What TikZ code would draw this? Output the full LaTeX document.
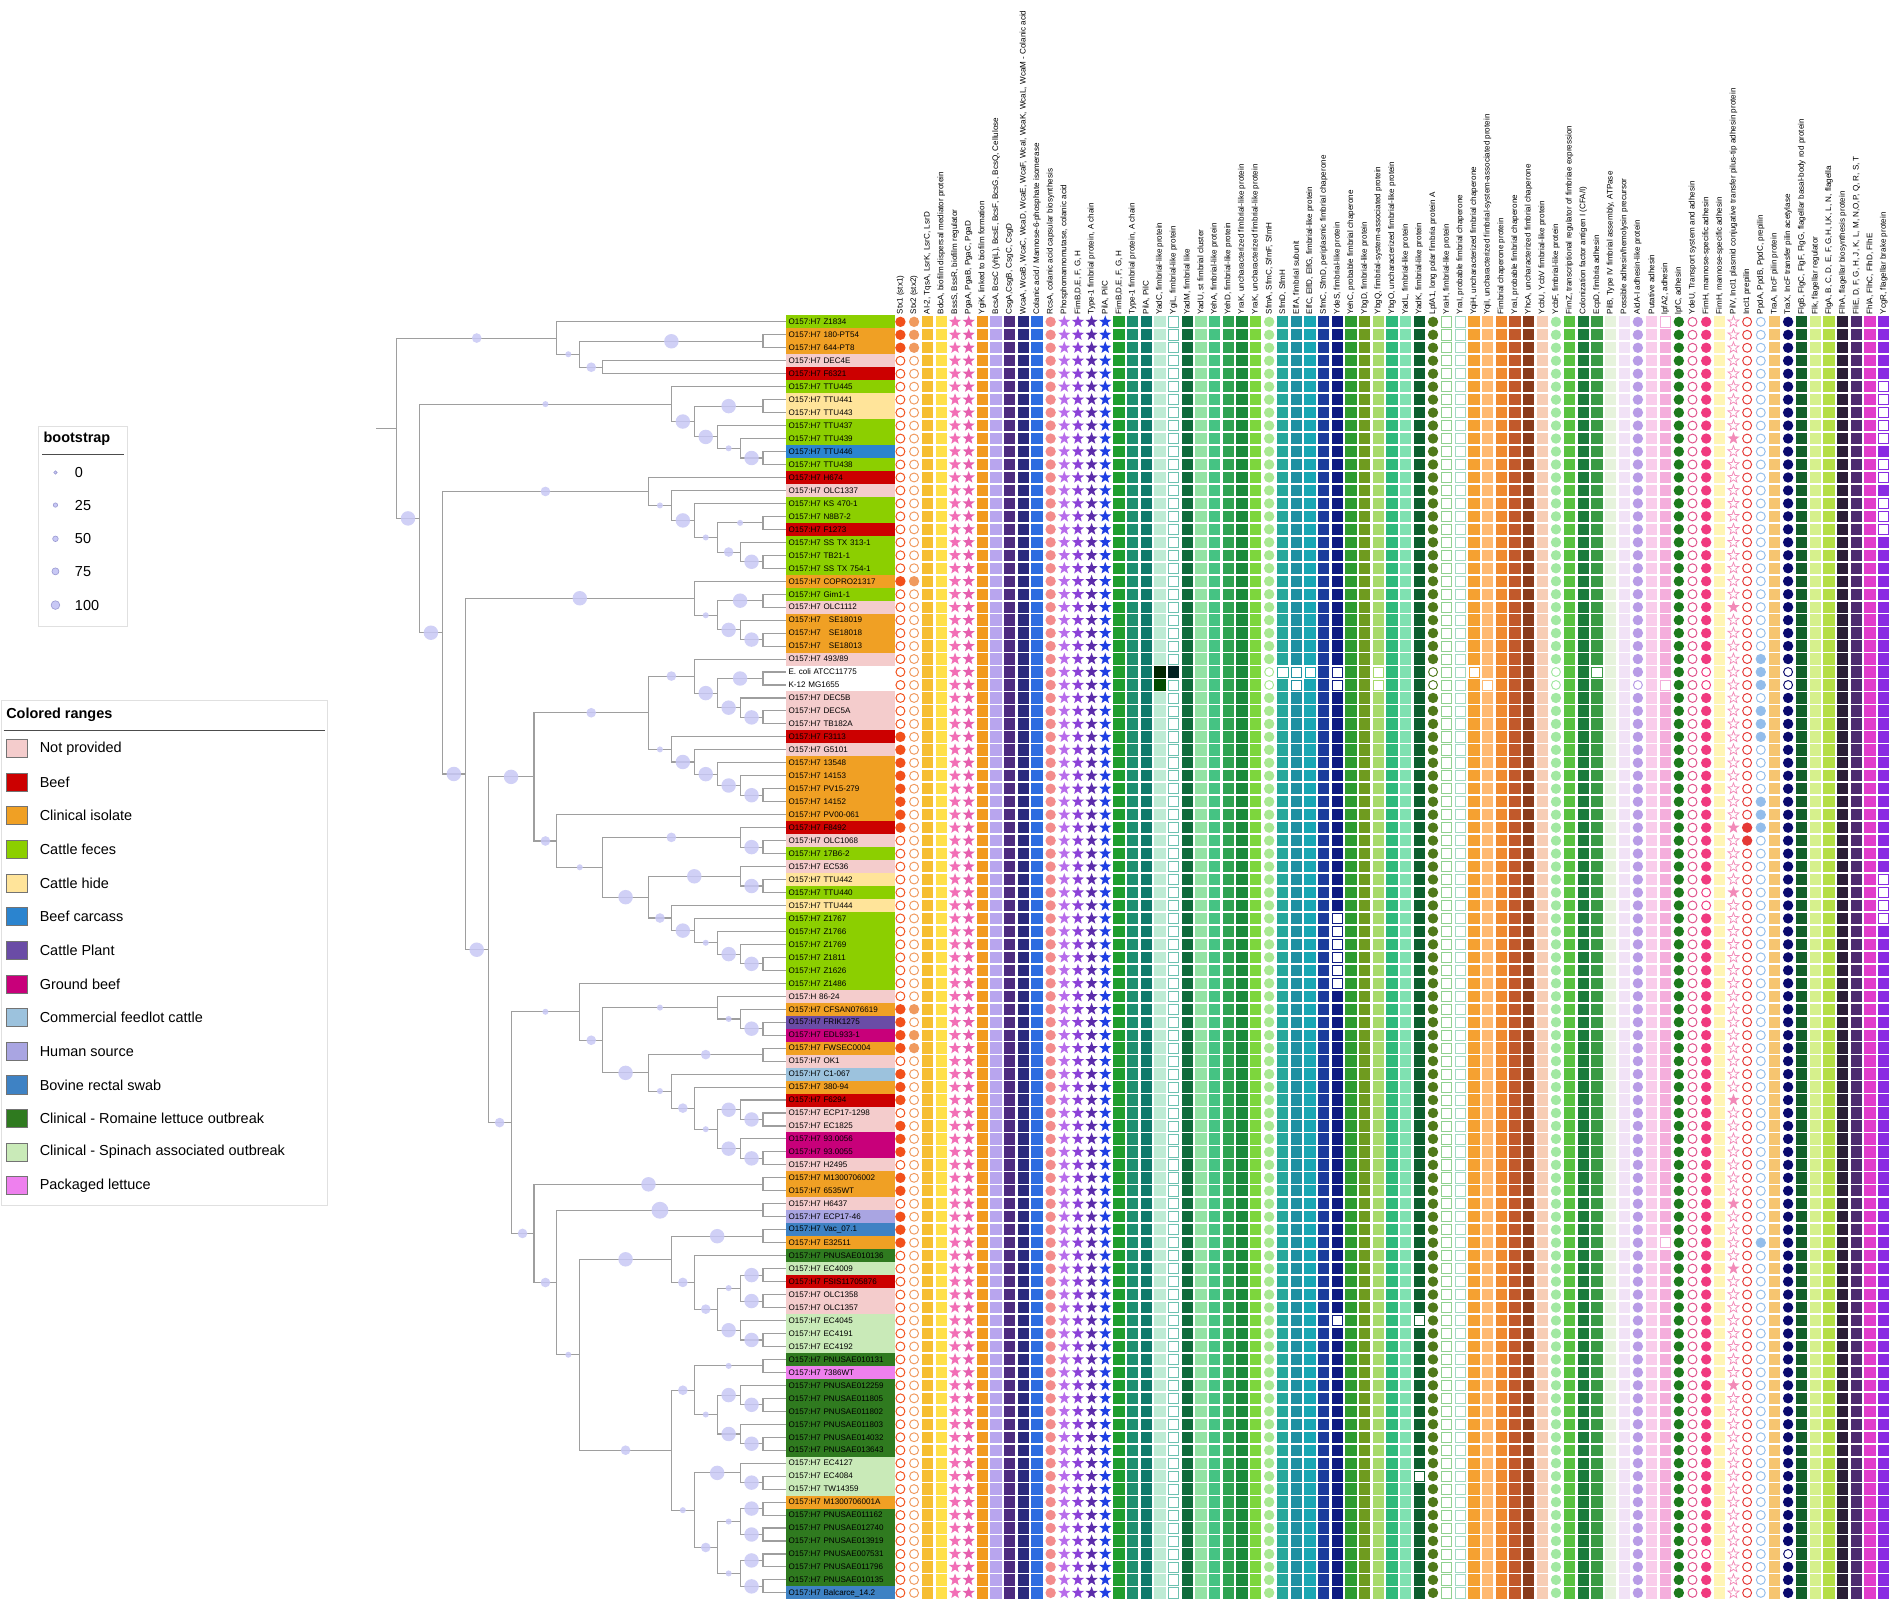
\documentclass[tikz,border=0pt]{standalone}
\usepackage{fontspec}
\setmainfont{Liberation Sans}
\usetikzlibrary{calc, positioning}

% source colours
\definecolor{cNP}{HTML}{F4CCCC}
\definecolor{cBeef}{HTML}{CC0000}
\definecolor{cClin}{HTML}{F0A024}
\definecolor{cFeces}{HTML}{8CCF00}
\definecolor{cHide}{HTML}{FFE49A}
\definecolor{cCarcass}{HTML}{2B84CF}
\definecolor{cPlant}{HTML}{6A4CA6}
\definecolor{cGround}{HTML}{C8007A}
\definecolor{cFeedlot}{HTML}{9CC2DD}
\definecolor{cHuman}{HTML}{A9A5E2}
\definecolor{cSwab}{HTML}{3E82C4}
\definecolor{cRomaine}{HTML}{2F7A1F}
\definecolor{cSpinach}{HTML}{C9EAB8}
\definecolor{cLettuce}{HTML}{EE80EE}
\definecolor{bootfill}{HTML}{C8C8F5}
% gene colours
\definecolor{g01}{HTML}{F2501A}\definecolor{g02}{HTML}{F09A5E}\definecolor{g03}{HTML}{F6BE32}
\definecolor{g04}{HTML}{FFE04A}\definecolor{g05}{HTML}{F26FB6}\definecolor{g06}{HTML}{E65FAE}
\definecolor{g07}{HTML}{F29A1F}\definecolor{g08}{HTML}{B8A5EE}\definecolor{g09}{HTML}{4D2C80}
\definecolor{g10}{HTML}{2A2A7E}\definecolor{g11}{HTML}{2E6CE0}\definecolor{g12}{HTML}{F38C8C}
\definecolor{g13}{HTML}{B86CEB}\definecolor{g14}{HTML}{8C42D8}\definecolor{g15}{HTML}{5B2CAA}
\definecolor{g16}{HTML}{1F3FE3}\definecolor{g17}{HTML}{1F9E2F}\definecolor{g18}{HTML}{1E8F70}
\definecolor{g19}{HTML}{0F7A6B}\definecolor{g20}{HTML}{BDEBD4}\definecolor{g21}{HTML}{6CC2B0}
\definecolor{g22}{HTML}{0F6B3B}\definecolor{g23}{HTML}{93E2A4}\definecolor{g24}{HTML}{45C383}
\definecolor{g25}{HTML}{2FA352}\definecolor{g26}{HTML}{1A8A3B}\definecolor{g27}{HTML}{7DD63D}
\definecolor{g28}{HTML}{A9E892}\definecolor{g29}{HTML}{27A79B}\definecolor{g30}{HTML}{1E90A2}
\definecolor{g31}{HTML}{19A7B3}\definecolor{g32}{HTML}{1B3C9C}\definecolor{g33}{HTML}{0E1B82}
\definecolor{g34}{HTML}{2F9B31}\definecolor{g35}{HTML}{6F9B1F}\definecolor{g36}{HTML}{A7DA6B}
\definecolor{g37}{HTML}{2FB97B}\definecolor{g38}{HTML}{7FE1B1}\definecolor{g39}{HTML}{0C5F2F}
\definecolor{g40}{HTML}{50791A}\definecolor{g41}{HTML}{8FD18F}\definecolor{g42}{HTML}{A2D9C1}
\definecolor{g43}{HTML}{F5A131}\definecolor{g44}{HTML}{FFB971}\definecolor{g45}{HTML}{F08B31}
\definecolor{g46}{HTML}{C1592B}\definecolor{g47}{HTML}{8A3B1B}\definecolor{g48}{HTML}{F7CDB5}
\definecolor{g49}{HTML}{A2E8A2}\definecolor{g50}{HTML}{58C141}\definecolor{g51}{HTML}{1B7B3B}
\definecolor{g52}{HTML}{3A9A44}\definecolor{g53}{HTML}{E6F3DC}\definecolor{g54}{HTML}{F1E2F6}
\definecolor{g55}{HTML}{B89CE6}\definecolor{g56}{HTML}{F9CDEB}\definecolor{g57}{HTML}{F4AEDC}
\definecolor{g58}{HTML}{1D7A1D}\definecolor{g59}{HTML}{E0508A}\definecolor{g60}{HTML}{F03A7F}
\definecolor{g61}{HTML}{FFF5B5}\definecolor{g62}{HTML}{F28AB8}\definecolor{g63}{HTML}{E53935}
\definecolor{g64}{HTML}{93BDEB}\definecolor{g65}{HTML}{F6C570}\definecolor{g66}{HTML}{0A0A6E}
\definecolor{g67}{HTML}{14602A}\definecolor{g68}{HTML}{D6F08C}\definecolor{g69}{HTML}{B5DE46}
\definecolor{g70}{HTML}{2B1E36}\definecolor{g71}{HTML}{4D2A70}\definecolor{g72}{HTML}{E03CCB}
\definecolor{g73}{HTML}{8A2BE2}

% cell shapes: x, y, colour
\newcommand\fullc[3]{\fill[#3] (#1,#2) circle (4.3);}
\newcommand\openc[3]{\filldraw[fill=white, draw=#3, line width=0.8pt] (#1,#2) circle (3.7);}
\newcommand\fulls[3]{\fill[#3] ({#1-4.7},{#2-4.7}) rectangle ({#1+4.7},{#2+4.7});}
\newcommand\opens[3]{\filldraw[fill=white, draw=#3, line width=0.6pt] ({#1-4.2},{#2-4.2}) rectangle ({#1+4.2},{#2+4.2});}
\newcommand\fullt[3]{\fill[#3] (#1,#2) +(90:5.3) -- +(126:2.2) -- +(162:5.3) -- +(198:2.2) -- +(234:5.3) -- +(270:2.2) -- +(306:5.3) -- +(342:2.2) -- +(18:5.3) -- +(54:2.2) -- cycle;}
\newcommand\opent[3]{\filldraw[fill=white, draw=#3, line width=0.6pt] (#1,#2) +(90:4.8) -- +(126:2) -- +(162:4.8) -- +(198:2) -- +(234:4.8) -- +(270:2) -- +(306:4.8) -- +(342:2) -- +(18:4.8) -- +(54:2) -- cycle;}

\makeatletter
% column, shape (c/s/t), colour, rows drawn open
\newcommand\gene[4]{%
  \pgfmathsetmacro\cx{747+11.33*(#1-1)}%
  \foreach \r in {1,...,99}{%
    \pgfmathsetmacro\cy{-(267+10.76*(\r-1))}%
    \edef\tmp{\noexpand\in@{,\r,}{,#4,}}\tmp
    \ifin@\csname open#2\endcsname{\cx}{\cy}{#3}%
    \else\csname full#2\endcsname{\cx}{\cy}{#3}\fi}}
% column, shape, colour, rows drawn filled
\newcommand\geneo[4]{%
  \pgfmathsetmacro\cx{747+11.33*(#1-1)}%
  \foreach \r in {1,...,99}{%
    \pgfmathsetmacro\cy{-(267+10.76*(\r-1))}%
    \edef\tmp{\noexpand\in@{,\r,}{,#4,}}\tmp
    \ifin@\csname full#2\endcsname{\cx}{\cy}{#3}%
    \else\csname open#2\endcsname{\cx}{\cy}{#3}\fi}}
\makeatother

% tree: [bootstrap radius] level, name, child, child
\newcommand\bootdot[2]{%
  \ifdim\csname bs@#2\endcsname pt>0pt
    \fill[boot] ($(#2)!0.5!(#1 |- #2)$) circle (\csname bs@#2\endcsname);
  \fi}
\newcommand\cladeat[5][0]{%
  \def\tmplev{#2}\def\autostr{auto}%
  \ifx\tmplev\autostr
    \pgfmathtruncatemacro\lev{max(\csname lv@#4\endcsname,\csname lv@#5\endcsname)+1}%
  \else\def\lev{#2}\fi
  \expandafter\xdef\csname lv@#3\endcsname{\lev}%
  \expandafter\xdef\csname bs@#3\endcsname{#1}%
  \path let \p1=(#4), \p2=(#5) in coordinate (#3) at ({652-19*\lev}, {0.5*(\y1+\y2)});
  \draw[branch] (#4) -| (#3) |- (#5);
  \bootdot{#3}{#4}\bootdot{#3}{#5}}
\newcommand\clade[4][0]{\cladeat[#1]{auto}{#2}{#3}{#4}}

\begin{document}
\begin{tikzpicture}[x=1pt, y=1pt,
  branch/.style={draw=black!38, line width=0.9pt},
  boot/.style={fill=bootfill, fill opacity=0.85},
  lab/.style={rectangle, anchor=west, minimum height=10.76pt, text width=86pt, inner xsep=2pt, inner ysep=0pt, align=left, font=\fontsize{6.7}{7}\selectfont},
  head/.style={rotate=90, anchor=west, inner sep=0pt, font=\fontsize{6.7}{7}\selectfont},
  legtxt/.style={anchor=west, inner sep=0pt, font=\fontsize{12}{13}\selectfont},
  legtitle/.style={anchor=west, inner sep=0pt, font=\bfseries\fontsize{12}{13}\selectfont},
  legsq/.style={draw=black!55, line width=0.6pt, minimum width=17pt, minimum height=15pt, inner sep=0pt},
  legdot/.style={fill=bootfill, draw=black!45!blue!40, line width=0.5pt},
  np/.style={fill=cNP}, beef/.style={fill=cBeef}, clinical/.style={fill=cClin},
  feces/.style={fill=cFeces}, hide/.style={fill=cHide}, carcass/.style={fill=cCarcass},
  plant/.style={fill=cPlant}, gbeef/.style={fill=cGround}, feedlot/.style={fill=cFeedlot},
  human/.style={fill=cHuman}, swab/.style={fill=cSwab}, romaine/.style={fill=cRomaine},
  spinach/.style={fill=cSpinach}, lettuce/.style={fill=cLettuce}, nosrc/.style={}]

\fill[white] (0,0) rectangle (1568,-1327.4);
\useasboundingbox (0,0) rectangle (1568,-1327.4);

% strain labels (tree tips)
\foreach \i/\src/\txt in {
  1/feces/O157:H7 Z1834, 2/clinical/O157:H7 180-PT54, 3/clinical/O157:H7 644-PT8,
  4/np/O157:H7 DEC4E, 5/beef/O157:H7 F6321, 6/feces/O157:H7 TTU445,
  7/hide/O157:H7 TTU441, 8/hide/O157:H7 TTU443, 9/feces/O157:H7 TTU437,
  10/feces/O157:H7 TTU439, 11/carcass/O157:H7 TTU446, 12/feces/O157:H7 TTU438,
  13/beef/O157:H7 H674, 14/np/O157:H7 OLC1337, 15/feces/O157:H7 KS 470-1,
  16/feces/O157:H7 N8B7-2, 17/beef/O157:H7 F1273, 18/feces/O157:H7 SS TX 313-1,
  19/feces/O157:H7 TB21-1, 20/feces/O157:H7 SS TX 754-1, 21/clinical/O157:H7 COPRO21317,
  22/feces/O157:H7 Gim1-1, 23/np/O157:H7 OLC1112, 24/clinical/O157:H7 \ \ SE18019,
  25/clinical/O157:H7 \ \ SE18018, 26/clinical/O157:H7 \ \ SE18013, 27/np/{O157:H7 493/89},
  28/nosrc/E. coli ATCC11775, 29/nosrc/K-12 MG1655, 30/np/O157:H7 DEC5B,
  31/np/O157:H7 DEC5A, 32/np/O157:H7 TB182A, 33/beef/O157:H7 F3113,
  34/np/O157:H7 G5101, 35/clinical/O157:H7 13548, 36/clinical/O157:H7 14153,
  37/clinical/O157:H7 PV15-279, 38/clinical/O157:H7 14152, 39/clinical/O157:H7 PV00-061,
  40/beef/O157:H7 F8492, 41/np/O157:H7 OLC1068, 42/feces/O157:H7 17B6-2,
  43/np/O157:H7 EC536, 44/hide/O157:H7 TTU442, 45/feces/O157:H7 TTU440,
  46/hide/O157:H7 TTU444, 47/feces/O157:H7 Z1767, 48/feces/O157:H7 Z1766,
  49/feces/O157:H7 Z1769, 50/feces/O157:H7 Z1811, 51/feces/O157:H7 Z1626,
  52/feces/O157:H7 Z1486, 53/np/O157:H 86-24, 54/clinical/O157:H7 CFSAN076619,
  55/plant/O157:H7 FRIK1275, 56/gbeef/O157:H7 EDL933-1, 57/clinical/O157:H7 FWSEC0004,
  58/np/O157:H7 OK1, 59/feedlot/O157:H7 C1-067, 60/clinical/O157:H7 380-94,
  61/beef/O157:H7 F6294, 62/np/O157:H7 ECP17-1298, 63/np/O157:H7 EC1825,
  64/gbeef/O157:H7 93.0056, 65/gbeef/O157:H7 93.0055, 66/np/O157:H7 H2495,
  67/clinical/O157:H7 M1300706002, 68/clinical/O157:H7 6535WT, 69/np/O157:H7 H6437,
  70/human/O157:H7 ECP17-46, 71/swab/O157:H7 Vac\_07.1, 72/clinical/O157:H7 E32511,
  73/romaine/O157:H7 PNUSAE010136, 74/spinach/O157:H7 EC4009, 75/beef/O157:H7 FSIS11705876,
  76/np/O157:H7 OLC1358, 77/np/O157:H7 OLC1357, 78/spinach/O157:H7 EC4045,
  79/spinach/O157:H7 EC4191, 80/spinach/O157:H7 EC4192, 81/romaine/O157:H7 PNUSAE010131,
  82/lettuce/O157:H7 7386WT, 83/romaine/O157:H7 PNUSAE012259, 84/romaine/O157:H7 PNUSAE011805,
  85/romaine/O157:H7 PNUSAE011802, 86/romaine/O157:H7 PNUSAE011803, 87/romaine/O157:H7 PNUSAE014032,
  88/romaine/O157:H7 PNUSAE013643, 89/spinach/O157:H7 EC4127, 90/spinach/O157:H7 EC4084,
  91/spinach/O157:H7 TW14359, 92/clinical/O157:H7 M1300706001A, 93/romaine/O157:H7 PNUSAE011162,
  94/romaine/O157:H7 PNUSAE012740, 95/romaine/O157:H7 PNUSAE013919, 96/romaine/O157:H7 PNUSAE007531,
  97/romaine/O157:H7 PNUSAE011796, 98/romaine/O157:H7 PNUSAE010135, 99/swab/O157:H7 Balcarce\_14.2}{
  \node[lab, \src] (t\i) at (652, {-(267+10.76*(\i-1))}) {\txt};
  \expandafter\xdef\csname lv@t\i\endcsname{0}
  \expandafter\xdef\csname bs@t\i\endcsname{0}
}

% rows 1-5
\clade[6]{k2}{t2}{t3}
\cladeat[4]{8}{a3}{t4}{t5}
\cladeat[2.5]{9}{a2}{k2}{a3}
\cladeat[4]{10}{a1}{t1}{a2}
% rows 6-12
\clade[6]{k11}{t11}{t12}
\clade[2.5]{d10}{t10}{k11}
\clade[6]{d9}{t9}{d10}
\clade[6]{k7}{t7}{t8}
\clade[6]{d7}{k7}{d9}
\clade[2.5]{g2}{t6}{d7}
% rows 13-20
\clade[6]{k19}{t19}{t20}
\clade[4]{d18}{t18}{k19}
\clade[2.5]{k16}{t16}{t17}
\clade[2.5]{d16}{k16}{d18}
\clade[6]{d15}{t15}{d16}
\clade[2.5]{d14}{t14}{d15}
\clade[4]{g3}{t13}{d14}
% rows 21-26
\clade[6]{k25}{t25}{t26}
\clade[6]{d24}{t24}{k25}
\clade[6]{k22}{t22}{t23}
\clade[2.5]{d22}{k22}{d24}
\clade[6]{g4}{t21}{d22}
% rows 27-38
\clade[6]{k31}{t31}{t32}
\clade[6]{d30}{t30}{k31}
\clade[6]{k28}{t28}{t29}
\clade[6]{d28}{k28}{d30}
\clade[4]{g5a}{t27}{d28}
\clade[6]{k37}{t37}{t38}
\clade[6]{d36}{t36}{k37}
\clade[6]{d35}{t35}{d36}
\clade[6]{d34}{t34}{d35}
\clade[2.5]{g5b}{t33}{d34}
\clade[4]{g5}{g5a}{g5b}
% rows 39-51
\clade[6]{k41}{t41}{t42}
\clade[4]{g6}{t40}{k41}
\clade[6]{k44}{t44}{t45}
\clade[6]{g7a}{t43}{k44}
\clade[6]{k50}{t50}{t51}
\clade[6]{d49}{t49}{k50}
\clade[2.5]{d48}{t48}{d49}
\clade[6]{d47}{t47}{d48}
\clade[4]{g7b}{t46}{d47}
\clade[6]{g7}{g7a}{g7b}
% rows 52-66
\clade[6]{k55}{t55}{t56}
\clade[2.5]{d54}{t54}{k55}
\clade[2.5]{g8}{t53}{d54}
\clade[6]{k62}{t62}{t63}
\clade[6]{d61}{t61}{k62}
\clade[6]{k65}{t65}{t66}
\clade[6]{d64}{t64}{k65}
\clade[2.5]{d61b}{d61}{d64}
\clade[4]{d60}{t60}{d61b}
\clade[2.5]{d59}{t59}{d60}
\clade[4]{k57}{t57}{t58}
\clade[6]{g9}{k57}{d59}
% rows 67-80
\clade[6]{k67}{t67}{t68}
\clade[7]{k69}{t69}{t70}
\clade[6]{k71}{t71}{t72}
\clade[6]{k74}{t74}{t75}
\clade[6]{k76}{t76}{t77}
\clade[6]{k79}{t79}{t80}
\clade[6]{d78}{t78}{k79}
\clade[2.5]{d74}{k74}{k76}
\clade[4]{d74b}{d74}{d78}
\clade[4]{d73}{t73}{d74b}
\clade[6]{g10}{k71}{d73}
% rows 81-99
\clade[2.5]{k81}{t81}{t82}
\clade[6]{k84}{t84}{t85}
\clade[6]{d83}{t83}{k84}
\clade[6]{k87}{t87}{t88}
\clade[6]{d86}{t86}{k87}
\clade[2.5]{d83b}{d83}{d86}
\clade[4]{g11a}{k81}{d83b}
\clade[6]{k90}{t90}{t91}
\clade[6]{d89}{t89}{k90}
\clade[6]{k92}{t92}{t93}
\clade[6]{k94}{t94}{t95}
\clade[6]{k96}{t96}{t97}
\clade[6]{k98}{t98}{t99}
\clade[2.5]{d92}{k92}{k94}
\clade[2.5]{d96}{k96}{k98}
\clade[4]{d92b}{d92}{d96}
\clade[2.5]{g11b}{d89}{d92b}
\clade[4]{g11}{g11a}{g11b}
% backbone
\cladeat[2.5]{9}{q3}{g10}{g11}
\cladeat[4]{10}{q2b}{k69}{q3}
\cladeat[4]{11}{q2}{k67}{q2b}
\cladeat[4]{8}{q1b}{g8}{g9}
\cladeat[2.5]{9}{q1}{t52}{q1b}
\cladeat[4]{12}{qq}{q1}{q2}
\cladeat[2.5]{8}{p1b}{g6}{g7}
\cladeat[4]{10}{p1}{t39}{p1b}
\cladeat[6]{11}{pp}{g5}{p1}
\cladeat[6]{13}{b13}{pp}{qq}
\cladeat[6]{14}{b14}{g4}{b13}
\cladeat[6]{15}{b15}{g3}{b14}
\cladeat[6]{16}{b16}{g2}{b15}
\cladeat[6]{17}{root}{a1}{b16}
\path (root) ++(-17,0) coordinate (rootstem);
\draw[branch] (rootstem) -- (root);

% column headers
\foreach \c/\txt in {
  1/{Stx1 (stx1)}, 2/{Stx2 (stx2)}, 3/{AI-2, TqsA, LsrK, LsrC, LsrD},
  4/{BdcA, biofilm dispersal mediator protein}, 5/{BssS, BssR, biofilm regulator},
  6/{PgaA, PgaB, PgaC, PgaD}, 7/{YgiK, linked to biofilm formation},
  8/{BcsA, BcsC (yhjL), BcsE, BcsF, BcsG, BcsQ, Cellulose}, 9/{CsgA,CsgB, CsgC, CsgD},
  10/{WcaA, WcaB, WcaC, WcaD, WcaE, WcaF, WcaI, WcaK, WcaL, WcaM - Colanic acid},
  11/{Colanic acid / Mannose-6-phosphate isomerase}, 12/{RcsA, colanic acid capsular biosynthesis},
  13/{Phosphomannomutase, colanic acid}, 14/{FimB,D,E, F, G, H}, 15/{Type-1 fimbrial protein, A chain},
  16/{PilA, PilC}, 17/{FimB,D,E, F, G, H}, 18/{Type-1 fimbrial protein, A chain}, 19/{PilA, PilC},
  20/{YadC, fimbrial-like protein}, 21/{YgiL, fimbrial-like protein}, 22/{YadM, fimbrial like},
  23/{YadU, st fimbrial cluster}, 24/{YehA, fimbrial-like protein}, 25/{YehD, fimbrial-like protein},
  26/{YraK, uncharacterized fimbrial-like protein}, 27/{YraK, uncharacterized fimbrial-like protein},
  28/{SfmA, SfmC, SfmF, SfmH}, 29/{SfmD, SfmH}, 30/{ElfA, fimbrial subunit},
  31/{ElfC, ElfD, ElfG, fimbrial-like protein}, 32/{SfmC, SfmD, periplasmic fimbrial chaperone},
  33/{YdeS, fimbrial-like protein}, 34/{YehC, probable fimbrial chaperone},
  35/{YbgD, fimbrial-like protein}, 36/{YbgQ, fimbrial-system-associated protein},
  37/{YbgO, uncharacterized fimbrial-like protein}, 38/{YadL, fimbrial-like protein},
  39/{YadK, fimbrial-like protein}, 40/{LpfA1, long polar fimbria protein A},
  41/{YraH, fimbrial-like protein}, 42/{YraI, probable fimbrial chaperone},
  43/{YqiH, uncharacterized fimbrial chaperone}, 44/{YqiI, uncharacterized fimbrial-system-associated protein},
  45/{Fimbrial chaperone protein}, 46/{YraI, probable fimbrial chaperone},
  47/{YhcA, uncharacterized fimbrial chaperone}, 48/{YcbU, YcbV fimbrial-like protein},
  49/{YcbF, fimbrial-like protein}, 50/{FimZ, transcriptional regulator of fimbriae expression},
  51/{Colonization factor antigen I (CFA/I)}, 52/{EcpD, fimbria adhesin},
  53/{PilB, Type IV fimbrial assembly, ATPase}, 54/{Possible adhesin/hemolysin precursor},
  55/{AidA-I adhesin-like protein}, 56/{Putative adhesin}, 57/{lpfA2, adhesin}, 58/{lpfC, adhesin},
  59/{YdeU, Transport system and adhesin}, 60/{FimH, mannose-specific adhesin},
  61/{FimH, mannose-specific adhesin}, 62/{PilV, IncI1 plasmid conjugative transfer pilus-tip adhesin protein},
  63/{IncI1 prepilin}, 64/{PpdA, PpdB, PpdC, prepilin}, 65/{TraA, IncF pilin protein},
  66/{TraX, IncF transfer pilin acetylase}, 67/{FlgB, FlgC, FlgF, FlgG, flagellar basal-body rod protein},
  68/{Flk, flagellar regulator}, 69/{FlgA, B, C, D, E, F, G,H, I,K, L, N, flagella},
  70/{FlhA, flagellar biosynthesis protein}, 71/{FliE, D, F, G, H, J, K, L, M, N,O,P, Q, R, S, T},
  72/{FhlA, FlhC, FlhD, FlhE}, 73/{YcgR, flagellar brake protein}}
  \node[head] (h\c) at ({747+11.33*(\c-1)}, -261) {\txt};

% gene presence matrix
\geneo{1}{c}{g01}{1,2,3,21,33,34,35,36,37,38,39,40,54,55,56,57,59,60,61,63,64,65,67,68,70,71,72}
\geneo{2}{c}{g02}{1,2,3,21,54,56,57}
\gene{3}{s}{g03}{}
\gene{4}{s}{g04}{}
\gene{5}{t}{g05}{}
\gene{6}{t}{g06}{}
\gene{7}{s}{g07}{}
\gene{8}{s}{g08}{}
\gene{9}{s}{g09}{}
\gene{10}{s}{g10}{}
\gene{11}{s}{g11}{}
\gene{12}{c}{g12}{}
\gene{13}{t}{g13}{}
\gene{14}{t}{g14}{}
\gene{15}{t}{g15}{}
\gene{16}{t}{g16}{}
\gene{17}{s}{g17}{}
\gene{18}{s}{g18}{}
\gene{19}{s}{g19}{}
\gene{20}{s}{g20}{}
\geneo{21}{s}{g21}{}
\gene{22}{s}{g22}{}
\gene{23}{s}{g23}{}
\gene{24}{s}{g24}{}
\gene{25}{s}{g25}{}
\gene{26}{s}{g26}{}
\gene{27}{s}{g27}{}
\gene{28}{c}{g28}{28,29}
\gene{29}{s}{g29}{28}
\gene{30}{s}{g30}{28,29}
\gene{31}{s}{g31}{28}
\gene{32}{s}{g32}{}
\gene{33}{s}{g33}{28,29,47,48,49,50,51,52,78}
\gene{34}{s}{g34}{}
\gene{35}{s}{g35}{}
\gene{36}{s}{g36}{28,29}
\gene{37}{s}{g37}{}
\gene{38}{s}{g38}{}
\gene{39}{s}{g39}{78,90}
\gene{40}{c}{g40}{28,29}
\geneo{41}{s}{g41}{}
\geneo{42}{s}{g42}{}
\gene{43}{s}{g43}{28}
\gene{44}{s}{g44}{29}
\gene{45}{s}{g45}{}
\gene{46}{s}{g46}{}
\gene{47}{s}{g47}{}
\gene{48}{s}{g48}{}
\gene{49}{c}{g49}{28,29}
\gene{50}{s}{g50}{}
\gene{51}{s}{g51}{}
\gene{52}{s}{g52}{28}
\gene{53}{s}{g53}{}
\gene{54}{s}{g54}{}
\gene{55}{c}{g55}{29}
\gene{56}{s}{g56}{}
\gene{57}{s}{g57}{1,29,72}
\gene{58}{c}{g58}{}
\geneo{59}{c}{g59}{}
\gene{60}{c}{g60}{28,29,45,46,96}
\gene{61}{s}{g61}{}
\geneo{62}{t}{g62}{10,23,40,45,61,69,74,83}
\geneo{63}{c}{g63}{40,41}
\geneo{64}{c}{g64}{27,28,29,31,32,33,38,39,40,72}
\gene{65}{s}{g65}{}
\gene{66}{c}{g66}{28,29,96}
\gene{67}{s}{g67}{}
\gene{68}{s}{g68}{}
\gene{69}{s}{g69}{}
\gene{70}{s}{g70}{}
\gene{71}{s}{g71}{}
\gene{72}{s}{g72}{}
\gene{73}{s}{g73}{6,7,8,9,10,12,13,15,16,17,44,45,46,47}
% dark cells of the two reference strains
\fulls{962.3}{-557.5}{black!85!green}
\fulls{962.3}{-568.3}{black!70!green}
\fulls{973.6}{-557.5}{black!75!teal}

% bootstrap legend
\draw[black!12, line width=0.8pt] (32,-354) rectangle (106,-520);
\node[legtitle] (bsTitle) at (36,-364) {bootstrap};
\draw[black!70, line width=0.6pt] (35,-377) -- (103,-377);
\foreach \v/\rad/\y in {0/1.4/392, 25/1.8/419, 50/2.3/447, 75/2.9/474, 100/3.6/502}{
  \filldraw[legdot] (46,-\y) circle (\rad);
  \node[legtxt] (bs\v) at (62,-\y) {\v};
}

% colored ranges legend
\draw[black!12, line width=0.8pt] (1,-581) rectangle (272,-1000);
\node[legtitle] (crTitle) at (5,-593) {Colored ranges};
\draw[black!70, line width=0.6pt] (3,-606) -- (270,-606);
\foreach \k/\src/\txt in {0/np/Not provided, 1/beef/Beef, 2/clinical/Clinical isolate,
  3/feces/Cattle feces, 4/hide/Cattle hide, 5/carcass/Beef carcass, 6/plant/Cattle Plant,
  7/gbeef/Ground beef, 8/feedlot/Commercial feedlot cattle, 9/human/Human source,
  10/swab/Bovine rectal swab, 11/romaine/Clinical - Romaine lettuce outbreak,
  12/spinach/Clinical - Spinach associated outbreak, 13/lettuce/Packaged lettuce}{
  \node[legsq, \src] (sq\k) at (14, {-(621+27.9*\k)}) {};
  \node[legtxt, right=10pt of sq\k] (lt\k) {\txt};
}
\end{tikzpicture}
\end{document}
